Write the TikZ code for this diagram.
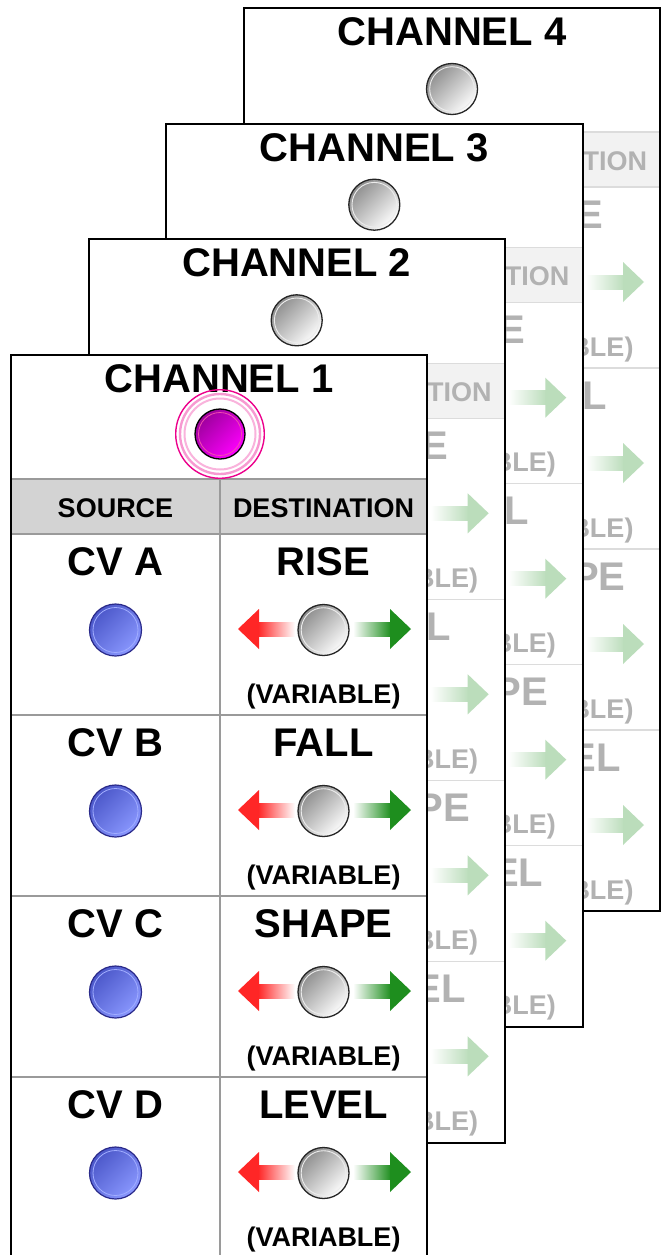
\documentclass[tikz,border=0pt]{standalone}
\usepackage{fontspec}
\setmainfont{Liberation Sans}
\definecolor{hdgray}{HTML}{D3D3D3}
\definecolor{lngray}{HTML}{9A9A9A}
\definecolor{grn}{HTML}{1E8E1E}
\definecolor{rdd}{HTML}{FF2626}
\definecolor{bluedark}{HTML}{4A56C8}
\definecolor{bluelight}{HTML}{8A98FF}
\definecolor{blueedge}{HTML}{2A2A8A}
\definecolor{magdark}{HTML}{9A009A}
\colorlet{tx}{black}
\colorlet{hd}{hdgray}
\colorlet{ln}{lngray}
\colorlet{gr}{grn}
\colorlet{rd}{rdd}
\tikzset{
  panelbox/.style={rectangle, fill=white, inner sep=0pt, minimum width=416pt, minimum height=903pt},
  panelline/.style={draw=black, line width=2pt},
  tline/.style={draw=ln, line width=1.2pt},
  ttl/.style={font=\bfseries\fontsize{40}{40}\selectfont, anchor=base, inner sep=0pt, text=black},
  big/.style={font=\bfseries\fontsize{40}{40}\selectfont, anchor=base, inner sep=0pt, text=tx},
  sml/.style={font=\bfseries\fontsize{27}{27}\selectfont, anchor=base, inner sep=0pt, text=tx},
  knob/.style={circle, inner sep=0pt, minimum size=51pt, draw=black!85, line width=1.3pt,
    top color=black!45, bottom color=white, shading angle=45},
  bled/.style={circle, inner sep=0pt, minimum size=52pt, draw=blueedge, line width=1.2pt,
    top color=bluedark, bottom color=bluelight, shading angle=45},
  mled/.style={circle, inner sep=0pt, minimum size=50pt, draw=black, line width=1.3pt,
    top color=magdark, bottom color=magenta, shading angle=45},
}
\newcommand\knobat[2]{%
  \node[knob] (#1) at (#2) {};
  \draw[white!85!gray, line width=0.9pt] (#1.center) circle[radius=22.3];
}
\newcommand\chpanel[5]{%
\begin{scope}[shift={(#2,#3)}]
\ifnum#5=1
  \colorlet{tx}{black}\colorlet{hd}{hdgray}\colorlet{ln}{lngray}\colorlet{gr}{grn}\colorlet{rd}{rdd}%
\else
  \colorlet{tx}{black!30}\colorlet{hd}{hdgray!30}\colorlet{ln}{lngray!35}\colorlet{gr}{grn!30}\colorlet{rd}{rdd!30}%
\fi
\node[panelbox] (p#1) at (208,451.5) {};
\fill[hd] (0,124) rectangle (416,179);
\draw[tline] (0,124) -- (416,124);
\foreach \k in {0,...,3}{\pgfmathsetmacro\yy{179+181*\k}\draw[tline] (0,\yy) -- (416,\yy);}
\draw[tline] (209,124) -- (209,903);
\node[ttl] (t#1) at (208,37.5) {CHANNEL #4};
\ifnum#5=1
  \coordinate (lc#1) at (209,79);
  \draw[magenta!30, line width=2pt] (lc#1) circle[radius=35.5];
  \draw[magenta!40, line width=2.4pt] (lc#1) circle[radius=40];
  \draw[magenta, line width=1.4pt] (lc#1) circle[radius=44.3];
  \node[mled] (led#1) at (lc#1) {};
  \draw[magenta!70!white, line width=0.8pt] (led#1.center) circle[radius=21.5];
\else
  \knobat{led#1}{208,81}
\fi
\node[sml] (hs#1) at (104.5,162) {SOURCE};
\node[sml] (hdn#1) at (312.5,162) {DESTINATION};
\foreach \k/\s/\d in {0/CV A/RISE,1/CV B/FALL,2/CV C/SHAPE,3/CV D/LEVEL}{
  \pgfmathsetmacro\rt{179+181*\k}
  \node[big] (cv#1-\k) at (104.5,\rt+41) {\s};
  \node[bled] (bl#1-\k) at (104.5,\rt+96) {};
  \draw[bluelight!80!white, line width=0.8pt] (bl#1-\k.center) circle[radius=22.5];
  \node[big] (dn#1-\k) at (312.5,\rt+41) {\d};
  \node[sml] (va#1-\k) at (312.5,\rt+169) {(VARIABLE)};
  \shade[left color=rd, right color=white] (247,\rt+88) rectangle (284,\rt+102);
  \fill[rd] (227,\rt+95) -- (248,\rt+75) -- (248,\rt+115) -- cycle;
  \shade[left color=white, right color=gr] (342,\rt+88) rectangle (380,\rt+102);
  \fill[gr] (379,\rt+75) -- (400,\rt+95) -- (379,\rt+115) -- cycle;
  \knobat{kn#1-\k}{312.5,\rt+96}
}
\draw[panelline] (p#1.north west) rectangle (p#1.south east);
\end{scope}}

\begin{document}
\begin{tikzpicture}[x=1pt,y=-1pt]
\clip (0,0) rectangle (661,1255);
\fill[white] (0,0) rectangle (661,1255);
\chpanel{4}{244}{8}{4}{0}
\chpanel{3}{166.3}{123.7}{3}{0}
\chpanel{2}{88.7}{239.3}{2}{0}
\chpanel{1}{11}{355}{1}{1}
\end{tikzpicture}
\end{document}
